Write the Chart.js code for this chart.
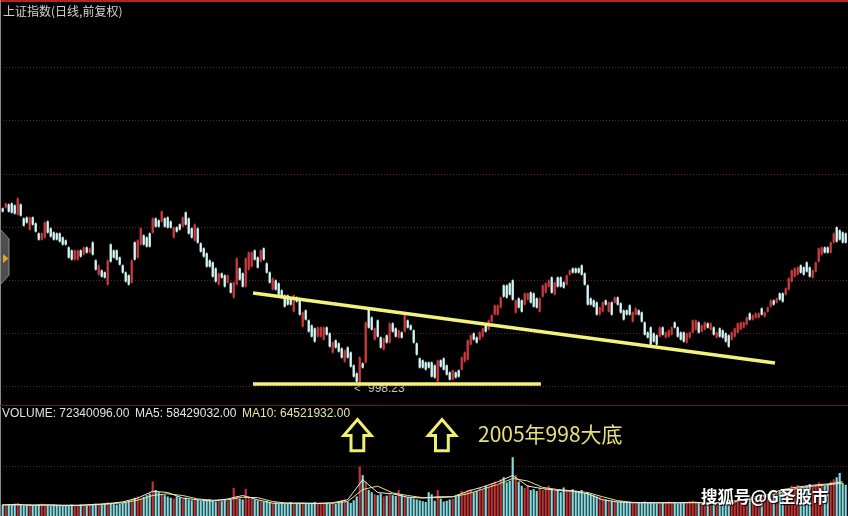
<!DOCTYPE html>
<html>
<head>
<meta charset="utf-8">
<script src="https://cdn.jsdelivr.net/npm/chart.js@4.4.1/dist/chart.umd.min.js"></script>
<style>
  html, body { margin: 0; padding: 0; background: #000; overflow: hidden; }
  #wrap { position: relative; width: 848px; height: 516px; background: #000; }
  canvas { position: absolute; left: 0; z-index: 2; }
  #kline { top: 0; }
  #vol { top: 405px; }
  .t { position: absolute; white-space: nowrap; z-index: 3; }
  .under { z-index: 1; }
  svg { position: absolute; left: 0; top: 0; z-index: 4; }
</style>
</head>
<body>
<div id="wrap">
  <div style="position:absolute;left:0;top:0;width:848px;height:2px;background:#b52424;z-index:5"></div>
  <div style="position:absolute;left:0;top:0;width:1px;height:516px;background:#8a8a8a;z-index:5"></div>
  <div style="position:absolute;left:0;top:405px;width:848px;height:1px;background:#6e1818;z-index:5"></div>

  <div class="t" style="left:3px;top:4px;font:12px 'Noto Sans CJK SC';line-height:14px;color:#d2d2d2">上证指数(日线,前复权)</div>

  <div class="t under" style="left:354px;top:381px;font:11px 'Liberation Sans';line-height:14px;color:#bcbcbc">&lt;</div>
  <div class="t under" style="left:368px;top:381px;font:12px 'Liberation Sans';line-height:14px;color:#c4c4c4">998.23</div>

  <div class="t" style="left:2px;top:406px;font:12px 'Liberation Sans';line-height:14px;color:#e0e0e0">VOLUME: 72340096.00</div>
  <div class="t" style="left:135px;top:406px;font:12px 'Liberation Sans';line-height:14px;color:#e6e6e6">MA5: 58429032.00</div>
  <div class="t" style="left:242px;top:406px;font:12px 'Liberation Sans';line-height:14px;color:#e6e6a8">MA10: 64521932.00</div>

  <div class="t" style="left:478px;top:421px;font:21px 'Noto Sans CJK SC';line-height:24px;color:#e8e07a">2005年998大底</div>
  <div class="t" style="left:701px;top:485px;font:bold 16.5px 'Noto Sans CJK SC';line-height:22px;color:#ffffff;text-shadow:0 0 2px #000,1px 1px 1px #000">搜狐号@G圣股市</div>

  <canvas id="kline" width="848" height="404"></canvas>
  <canvas id="vol" width="848" height="111"></canvas>

  <svg width="848" height="516">
    <polygon points="0,229 9,239 9,275 0,285" fill="#4e4e4e" stroke="#8c8c8c" stroke-width="1"/>
    <polygon points="3,254 8.5,258.5 3,263" fill="#e0a522"/>
    <path d="M357.5,419.5 L371.2,435.5 L363.8,435.5 L363.8,450.8 L351,450.8 L351,435.5 L343.8,435.5 Z" fill="none" stroke="#f0ee6e" stroke-width="3" stroke-linejoin="miter"/>
    <path d="M442,419.5 L455.7,435.5 L448.3,435.5 L448.3,450.8 L435.5,450.8 L435.5,435.5 L428.3,435.5 Z" fill="none" stroke="#f0ee6e" stroke-width="3" stroke-linejoin="miter"/>
  </svg>
</div>

<script>
// daily candles, index points
const open = [
  1346,1350,1354,1356,1352,1336,1354,1326,1328,1306,
  1328,1316,1296,1286,1290,1320,1306,1298,1296,1296,
  1288,1282,1268,1262,1246,1246,1262,1256,1268,1260,
  1278,1242,1216,1222,1218,1196,1274,1262,1262,1248,
  1232,1218,1212,1200,1278,1250,1276,1292,1288,1296,
  1300,1326,1322,1322,1326,1328,1320,1290,1308,1314,
  1312,1338,1326,1306,1284,1306,1276,1266,1256,1242,
  1238,1226,1196,1216,1212,1200,1196,1170,1196,1226,
  1216,1192,1226,1232,1262,1248,1242,1266,1236,1218,
  1186,1202,1196,1182,1172,1172,1166,1142,1168,1162,
  1112,1142,1122,1112,1106,1092,1092,1086,1108,1096,
  1060,1082,1076,1066,1042,1068,1058,1032,1016,1000,
  1036,1040,1146,1128,1086,1122,1088,1066,1092,1080,
  1116,1106,1090,1098,1102,1122,1112,1102,1076,1046,
  1042,1038,1038,1038,1032,1002,1042,1046,1032,1018,
  1006,1018,1022,1026,1042,1046,1076,1096,1088,1086,
  1092,1112,1106,1122,1136,1136,1150,1192,1192,1196,
  1202,1140,1166,1162,1156,1166,1178,1176,1166,1142,
  1172,1180,1192,1208,1176,1208,1208,1198,1196,1216,
  1226,1226,1226,1232,1216,1192,1166,1162,1158,1136,
  1142,1162,1142,1158,1160,1168,1156,1142,1142,1152,
  1122,1136,1142,1138,1118,1098,1108,1096,1092,1092,
  1108,1090,1092,1096,1118,1108,1098,1098,1080,1090,
  1100,1106,1118,1102,1106,1116,1106,1108,1090,1106,
  1102,1096,1092,1086,1092,1100,1106,1110,1116,1136,
  1126,1130,1130,1146,1132,1142,1152,1162,1160,1176,
  1176,1176,1186,1202,1212,1216,1232,1228,1238,1228,
  1210,1222,1242,1256,1268,1268,1260,1280,1308,1302,
  1298,1296
];
const high = [
  1348,1358,1356,1358,1354,1368,1356,1328,1330,1330,
  1330,1318,1298,1298,1320,1322,1308,1300,1298,1298,
  1290,1284,1270,1264,1264,1264,1264,1270,1270,1268,
  1280,1244,1234,1224,1220,1244,1276,1264,1264,1250,
  1234,1220,1214,1244,1280,1284,1308,1294,1290,1298,
  1328,1328,1324,1342,1328,1330,1322,1310,1310,1316,
  1330,1340,1328,1308,1316,1308,1278,1268,1258,1244,
  1240,1228,1218,1218,1214,1214,1198,1200,1248,1228,
  1218,1248,1260,1260,1264,1250,1264,1268,1238,1220,
  1208,1204,1198,1184,1174,1174,1168,1174,1170,1164,
  1140,1144,1124,1114,1108,1110,1110,1110,1110,1098,
  1080,1084,1078,1068,1064,1070,1060,1034,1018,1050,
  1038,1120,1148,1130,1108,1124,1090,1088,1094,1118,
  1118,1108,1104,1100,1134,1124,1114,1104,1078,1048,
  1044,1040,1040,1040,1034,1044,1044,1048,1034,1020,
  1024,1020,1024,1050,1060,1084,1094,1098,1090,1100,
  1108,1114,1124,1134,1154,1154,1170,1194,1194,1198,
  1204,1164,1168,1164,1178,1178,1180,1178,1168,1168,
  1194,1198,1204,1210,1200,1210,1210,1200,1214,1224,
  1228,1228,1228,1234,1218,1194,1168,1164,1160,1150,
  1160,1164,1160,1160,1170,1170,1158,1144,1144,1154,
  1140,1148,1144,1140,1120,1100,1110,1098,1094,1110,
  1110,1100,1104,1110,1120,1110,1100,1100,1098,1100,
  1124,1124,1120,1114,1120,1118,1118,1110,1100,1108,
  1104,1098,1094,1100,1108,1118,1120,1120,1130,1138,
  1134,1138,1138,1148,1140,1150,1164,1164,1168,1178,
  1178,1188,1208,1224,1228,1230,1234,1230,1240,1230,
  1224,1240,1268,1270,1270,1270,1280,1298,1310,1304,
  1300,1298
];
const low = [
  1340,1348,1340,1338,1336,1334,1332,1312,1318,1304,
  1314,1300,1284,1284,1288,1298,1290,1284,1284,1280,
  1274,1274,1248,1244,1244,1244,1250,1254,1258,1258,
  1254,1224,1214,1210,1208,1194,1240,1248,1244,1234,
  1218,1200,1194,1198,1244,1248,1274,1274,1270,1270,
  1298,1310,1310,1320,1310,1308,1308,1288,1300,1304,
  1310,1314,1296,1288,1282,1278,1260,1250,1230,1230,
  1210,1200,1194,1208,1190,1198,1178,1168,1194,1204,
  1190,1190,1224,1230,1244,1228,1240,1244,1218,1198,
  1184,1184,1174,1168,1150,1154,1154,1140,1160,1134,
  1110,1124,1100,1090,1080,1090,1090,1084,1094,1070,
  1058,1068,1060,1048,1040,1048,1030,1010,1000,998.23,
  1028,1038,1108,1104,1084,1090,1068,1064,1078,1078,
  1100,1090,1088,1088,1100,1108,1104,1078,1054,1028,
  1028,1024,1028,1010,1008,1000,1030,1024,1014,1004,
  1004,1008,1010,1024,1040,1044,1074,1084,1078,1084,
  1090,1100,1104,1120,1134,1134,1148,1170,1168,1174,
  1164,1138,1148,1140,1154,1164,1158,1150,1148,1140,
  1170,1178,1190,1178,1174,1190,1190,1188,1194,1214,
  1218,1218,1218,1214,1194,1154,1154,1150,1134,1134,
  1140,1154,1140,1134,1158,1154,1138,1124,1134,1134,
  1120,1134,1134,1120,1094,1088,1074,1080,1074,1090,
  1094,1088,1090,1094,1108,1090,1084,1080,1078,1088,
  1098,1104,1098,1100,1104,1108,1104,1094,1088,1090,
  1088,1080,1070,1084,1090,1098,1104,1108,1114,1124,
  1124,1128,1128,1134,1130,1140,1150,1154,1158,1164,
  1160,1174,1184,1200,1210,1214,1218,1214,1220,1210,
  1208,1220,1240,1254,1258,1258,1258,1278,1280,1284,
  1278,1278
];
const close = [
  1342,1356,1342,1340,1338,1366,1334,1314,1320,1328,
  1316,1302,1286,1296,1318,1300,1292,1286,1286,1282,
  1276,1276,1250,1246,1262,1262,1252,1268,1260,1266,
  1256,1226,1232,1212,1210,1242,1242,1250,1246,1236,
  1220,1202,1196,1242,1246,1282,1306,1276,1272,1272,
  1326,1312,1312,1340,1312,1310,1310,1308,1302,1306,
  1328,1316,1298,1290,1314,1280,1262,1252,1232,1232,
  1212,1202,1216,1210,1192,1212,1180,1198,1246,1206,
  1192,1246,1258,1258,1246,1230,1262,1246,1220,1200,
  1206,1186,1176,1170,1152,1156,1156,1172,1162,1136,
  1138,1126,1102,1092,1082,1108,1108,1108,1096,1072,
  1078,1070,1062,1050,1062,1050,1032,1012,1002,1048,
  1030,1118,1110,1106,1106,1092,1070,1086,1080,1116,
  1102,1092,1102,1090,1132,1110,1106,1080,1056,1030,
  1030,1026,1030,1012,1010,1042,1032,1026,1016,1006,
  1022,1010,1012,1048,1058,1082,1092,1086,1080,1098,
  1106,1102,1122,1132,1152,1152,1168,1172,1170,1176,
  1166,1162,1150,1142,1176,1176,1160,1152,1150,1166,
  1192,1196,1202,1180,1198,1192,1192,1190,1212,1222,
  1220,1220,1220,1216,1196,1156,1156,1152,1136,1148,
  1158,1156,1158,1136,1168,1156,1140,1126,1136,1136,
  1138,1146,1136,1122,1096,1090,1076,1082,1076,1108,
  1096,1098,1102,1108,1110,1092,1086,1082,1096,1098,
  1122,1122,1100,1112,1118,1110,1116,1096,1098,1092,
  1090,1082,1072,1098,1106,1116,1118,1118,1128,1126,
  1132,1136,1136,1136,1138,1148,1162,1156,1166,1166,
  1162,1186,1206,1222,1226,1228,1220,1216,1222,1212,
  1222,1238,1266,1268,1260,1260,1278,1296,1282,1286,
  1280,1280
];
// volume, millions of shares
const volume = [
  26,24,27,25,28,30,26,24,25,27,
  25,24,26,28,27,25,24,26,25,24,
  23,25,24,26,25,24,26,25,24,25,
  27,28,26,25,29,32,30,27,26,28,
  30,32,35,38,42,45,40,44,48,52,
  80,60,55,50,48,45,42,40,45,43,
  40,42,38,36,40,38,35,37,36,38,
  35,33,36,34,37,35,38,65,45,40,
  38,63,45,40,38,36,34,33,35,32,
  30,31,29,30,28,30,32,29,28,30,
  31,29,28,30,32,28,27,29,30,28,
  30,28,32,35,38,33,30,36,45,115,
  95,80,60,55,50,48,52,45,47,50,
  48,46,60,50,45,44,42,40,38,36,
  34,32,55,50,35,60,40,33,35,38,
  40,45,50,58,55,60,62,55,58,65,
  62,70,68,75,80,72,85,90,78,82,
  137,95,80,70,65,72,60,62,58,66,
  60,64,70,62,58,60,55,66,60,58,
  62,58,55,60,52,55,50,48,45,44,
  40,38,36,35,34,33,34,32,30,31,
  30,32,31,30,33,32,31,30,29,31,
  30,32,33,31,30,29,31,30,32,33,
  35,33,32,30,31,32,30,29,31,30,
  32,30,31,33,35,34,36,35,38,40,
  42,40,44,46,48,50,47,52,55,58,
  62,58,65,70,68,72,66,64,70,74,
  68,72,78,75,70,74,80,85,90,100,
  76,72.34
];
// volume averages, one point every 5 days
const maDays = [
  0,5,10,15,20,25,30,35,40,45,50,55,60,65,70,75,80,85,90,95,
  100,105,110,115,120,125,130,135,140,145,150,155,160,165,170,175,180,185,190,195,
  200,205,210,215,220,225,230,235,240,245,250,255,260,265,270,275,280
];
const ma5 = [
  26,27,25,26,25,25,27,29,33,42,58,55,42,38,35,40,48,38,30,30,
  30,29,31,38,85,55,52,44,42,45,45,58,68,80,95,70,64,60,58,52,
  38,33,31,31,31,31,32,31,32,36,44,50,62,68,72,75,80
];
const ma10 = [
  26,26,26,26,25,25,26,28,31,37,48,52,48,40,37,38,44,43,34,30,
  30,30,30,34,62,70,54,48,43,43,45,52,63,74,88,82,67,62,59,55,
  45,36,32,31,31,31,31,31,31,34,40,47,56,65,70,73,77
];
// hand-drawn lines on the original chart (day index, index level)
const trendX = [83.43, 257.43];
const trendY = [1178, 1038];
const floorX = [83.43, 179.4];
const floorY = [996, 996];
// dotted grid levels
const priceGrid = [992, 1098, 1204, 1310, 1416, 1524, 1630];
const volumeGrid = [115];

const UP = '#c83a3e';
const DOWN = '#d2f4f4';
const VUP = '#c23434';
const VDOWN = '#86dae0';
const YELLOW = '#f5f27a';
const GRID = '#6c1c1c';

const days = close.map((c, i) => i);
const isUp = close.map((c, i) => c >= open[i]);

const xScale = { type: 'linear', min: -0.9, max: 281.77, offset: false, display: false, grid: { offset: false } };
const baseOptions = {
  responsive: false,
  animation: false,
  devicePixelRatio: 1,
  layout: { padding: 0 },
  plugins: { legend: { display: false }, tooltip: { enabled: false } },
  events: []
};

new Chart(document.getElementById('kline'), {
  type: 'bar',
  data: {
    datasets: [
      {
        type: 'line',
        data: trendX.map((x, i) => ({ x: x, y: trendY[i] })),
        borderColor: YELLOW, borderWidth: 3.5, pointRadius: 0, order: 0
      },
      {
        type: 'line',
        data: floorX.map((x, i) => ({ x: x, y: floorY[i] })),
        borderColor: YELLOW, borderWidth: 3.5, pointRadius: 0, order: 0
      },
      {
        data: days.map(i => ({ x: i, y: [open[i], close[i]] })),
        backgroundColor: isUp.map(u => u ? UP : DOWN),
        barThickness: 1.5, grouped: false, borderWidth: 0, order: 1
      },
      {
        data: days.map(i => ({ x: i, y: [low[i], high[i]] })),
        backgroundColor: isUp.map(u => u ? UP : DOWN),
        barThickness: 1, grouped: false, borderWidth: 0, order: 2
      }
    ]
  },
  options: Object.assign({}, baseOptions, {
    scales: {
      x: xScale,
      y: {
        min: 956, max: 1764,
        afterBuildTicks: (s) => { s.ticks = priceGrid.map(v => ({ value: v })); },
        afterFit: (s) => { s.width = 0; },
        ticks: { display: false },
        grid: { color: GRID, lineWidth: 1, drawTicks: false },
        border: { display: false, dash: [1, 2] }
      }
    }
  })
});

new Chart(document.getElementById('vol'), {
  type: 'bar',
  data: {
    datasets: [
      {
        type: 'line',
        data: maDays.map((d, i) => ({ x: d, y: ma5[i] })),
        borderColor: '#ececec', borderWidth: 1, pointRadius: 0, order: 0
      },
      {
        type: 'line',
        data: maDays.map((d, i) => ({ x: d, y: ma10[i] })),
        borderColor: '#e4e47e', borderWidth: 1, pointRadius: 0, order: 0
      },
      {
        data: days.map(i => ({ x: i, y: volume[i] })),
        backgroundColor: isUp.map(u => u ? VUP : VDOWN),
        barThickness: 1.5, grouped: false, borderWidth: 0, order: 1
      }
    ]
  },
  options: Object.assign({}, baseOptions, {
    scales: {
      x: xScale,
      y: {
        min: 0, max: 260,
        afterBuildTicks: (s) => { s.ticks = volumeGrid.map(v => ({ value: v })); },
        afterFit: (s) => { s.width = 0; },
        ticks: { display: false },
        grid: { color: GRID, lineWidth: 1, drawTicks: false },
        border: { display: false, dash: [1, 2] }
      }
    }
  })
});
</script>
</body>
</html>
